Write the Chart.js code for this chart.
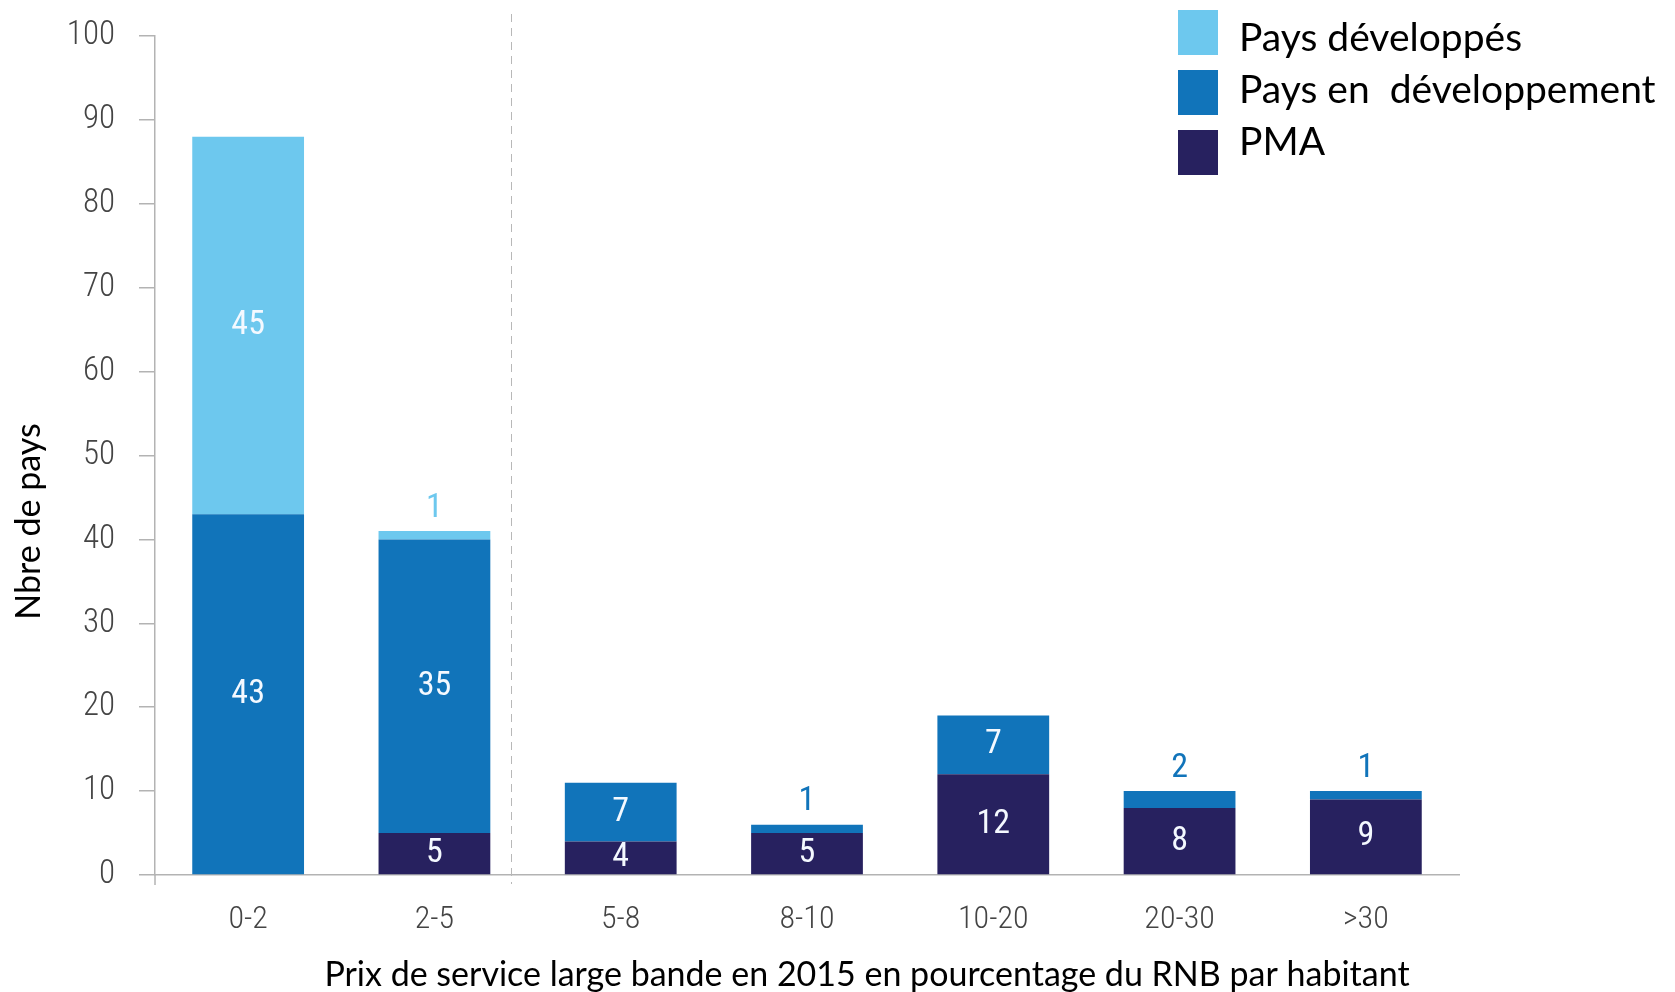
<!DOCTYPE html>
<html>
<head>
<meta charset="utf-8">
<script src="https://cdn.jsdelivr.net/npm/chart.js@4.4.1/dist/chart.umd.min.js"></script>
<style>
  html, body { margin: 0; padding: 0; background: #fff; }
  #wrap { width: 1675px; height: 992px; }
</style>
</head>
<body>
<div id="wrap"><canvas id="chart"></canvas></div>
<script>
  const categories = ['0-2', '2-5', '5-8', '8-10', '10-20', '20-30', '>30'];
  const pma = [0, 5, 4, 5, 12, 8, 9];
  const developing = [43, 35, 7, 1, 7, 2, 1];
  const developed = [45, 1, 0, 0, 0, 0, 0];
  const seriesNames = ['PMA', 'Pays en  développement', 'Pays développés'];
  const seriesColors = ['#27215f', '#1174ba', '#6dc8ee'];
  const xTitle = 'Prix de service large bande en 2015 en pourcentage du RNB par habitant';
  const yTitle = 'Nbre de pays';
  const dividerAt = 1.41;

  const narrow = "'Liberation Sans Narrow', 'Roboto Condensed', 'Open Sans', sans-serif";
  const body = "Lato, 'Open Sans', sans-serif";

  const barLabels = {
    id: 'barLabels',
    afterDatasetsDraw(chart) {
      const ctx = chart.ctx;
      ctx.save();
      ctx.textAlign = 'center';
      ctx.textBaseline = 'middle';
      ctx.font = `400 34px ${narrow}`;
      chart.data.datasets.forEach((ds, i) => {
        chart.getDatasetMeta(i).data.forEach((bar, j) => {
          const v = ds.data[j];
          if (!v) return;
          if (v <= 2) {
            ctx.fillStyle = ds.backgroundColor;
            ctx.fillText(v, bar.x, bar.y - 23);
          } else {
            ctx.fillStyle = '#f4f9ff';
            ctx.fillText(v, bar.x, (bar.y + bar.base) / 2);
          }
        });
      });
      ctx.restore();
    }
  };

  const decor = {
    id: 'decor',
    beforeDatasetsDraw(chart) {
      const { ctx, chartArea, scales } = chart;
      const x = Math.round(scales.x.getPixelForValue(dividerAt)) + 0.5;
      ctx.save();
      ctx.strokeStyle = '#b8b8b8';
      ctx.lineWidth = 1;
      ctx.setLineDash([8, 6]);
      ctx.beginPath();
      ctx.moveTo(x, chartArea.top - 22);
      ctx.lineTo(x, chartArea.bottom + 9);
      ctx.stroke();
      ctx.setLineDash([]);
      ctx.lineWidth = 1.5;
      ctx.strokeStyle = '#b3b3b3';
      ctx.beginPath();
      ctx.moveTo(chartArea.left, chartArea.bottom);
      ctx.lineTo(chartArea.left, chartArea.bottom + 10);
      ctx.stroke();
      ctx.restore();
    },
    afterDraw(chart) {
      const { ctx, chartArea } = chart;
      ctx.save();
      ctx.fillStyle = '#000';
      ctx.font = `400 34px ${body}`;
      ctx.textAlign = 'center';
      ctx.textBaseline = 'middle';
      ctx.fillText(xTitle, (chartArea.left + chartArea.right) / 2 + 60, chart.height - 17);
      ctx.translate(29, (chartArea.top + chartArea.bottom) / 2 + 66);
      ctx.rotate(-Math.PI / 2);
      ctx.fillText(yTitle, 0, 0);
      ctx.restore();
    }
  };

  const sideLegend = {
    id: 'sideLegend',
    afterDraw(chart) {
      const ctx = chart.ctx;
      const left = chart.chartArea.right - 281;
      ctx.save();
      ctx.font = `400 39px ${body}`;
      ctx.textBaseline = 'alphabetic';
      ctx.textAlign = 'left';
      [2, 1, 0].forEach((i, row) => {
        ctx.fillStyle = seriesColors[i];
        ctx.fillRect(left, 10 + row * 60, 40, 45);
        ctx.fillStyle = '#000';
        ctx.fillText(seriesNames[i], left + 61, 51 + row * 52);
      });
      ctx.restore();
    }
  };

  new Chart(document.getElementById('chart'), {
    type: 'bar',
    data: {
      labels: categories,
      datasets: [
        { label: seriesNames[0], data: pma, backgroundColor: seriesColors[0] },
        { label: seriesNames[1], data: developing, backgroundColor: seriesColors[1] },
        { label: seriesNames[2], data: developed, backgroundColor: seriesColors[2] }
      ]
    },
    options: {
      responsive: true,
      maintainAspectRatio: false,
      animation: false,
      datasets: { bar: { barPercentage: 0.6, categoryPercentage: 1, borderWidth: 0 } },
      layout: { padding: { top: 36, right: 216, left: 0, bottom: 0 } },
      plugins: { legend: { display: false }, tooltip: { enabled: false } },
      scales: {
        x: {
          stacked: true,
          grid: { display: false },
          border: { color: '#b3b3b3', width: 1.5 },
          ticks: { color: '#444', padding: 18, font: { family: narrow, size: 32, weight: 300 } },
          afterFit: (s) => { s.height = 117; }
        },
        y: {
          stacked: true,
          min: 0,
          max: 100,
          ticks: { stepSize: 10, color: '#444', padding: 24, font: { family: narrow, size: 33, weight: 300 } },
          grid: { drawOnChartArea: false, tickLength: 16, color: '#b3b3b3', lineWidth: 1.5 },
          border: { color: '#b3b3b3', width: 1.5 },
          afterFit: (s) => { s.width = 155; s.paddingTop = 0; s.paddingBottom = 0; }
        }
      }
    },
    plugins: [barLabels, decor, sideLegend]
  });
</script>
</body>
</html>
